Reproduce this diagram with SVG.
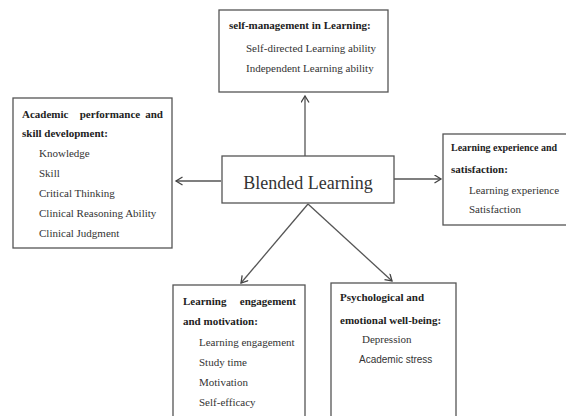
<svg xmlns="http://www.w3.org/2000/svg" width="566" height="416" viewBox="0 0 566 416">
<defs>
<marker id="arr" markerWidth="10" markerHeight="10" refX="7" refY="4.5" orient="auto" markerUnits="userSpaceOnUse">
<path d="M0.5,0.5 L7,4.5 L0.5,8.5" fill="none" stroke="#444" stroke-width="1.3"/>
</marker>
</defs>
<style>
.box{fill:#fff;stroke:#555;stroke-width:1.3}
.h{font-family:"Liberation Serif","Times New Roman",serif;font-weight:bold;font-size:11px;fill:#222}
.t{font-family:"Liberation Serif","Times New Roman",serif;font-size:11px;fill:#333}
.s{font-family:"Liberation Sans",Arial,sans-serif;font-size:10px;fill:#333}
.big{font-family:"Liberation Serif","Times New Roman",serif;font-size:18px;fill:#333}
.c{stroke:#555;stroke-width:1.3;fill:none}
</style>
<rect width="566" height="416" fill="#fff"/>
<g id="connectors">
<line class="c" x1="305" y1="157" x2="305" y2="96" marker-end="url(#arr)"/>
<line class="c" x1="221" y1="181" x2="176" y2="181" marker-end="url(#arr)"/>
<line class="c" x1="394" y1="179" x2="441" y2="179" marker-end="url(#arr)"/>
<line class="c" x1="308" y1="204" x2="241" y2="283" marker-end="url(#arr)"/>
<line class="c" x1="308" y1="204" x2="392" y2="281" marker-end="url(#arr)"/>
</g>
<g id="center">
<rect class="box" x="222" y="156" width="172" height="47"/>
<text class="big" x="308" y="189" text-anchor="middle">Blended Learning</text>
</g>
<g id="top">
<rect class="box" x="219" y="10" width="169" height="82"/>
<text class="h" x="229" y="29">self-management in Learning:</text>
<text class="t" x="246" y="52">Self-directed Learning ability</text>
<text class="t" x="246" y="72">Independent Learning ability</text>
</g>
<g id="left">
<rect class="box" x="13" y="98" width="159" height="150"/>
<text class="h" x="22" y="118">Academic</text>
<text class="h" x="110" y="118" text-anchor="middle">performance</text>
<text class="h" x="163" y="118" text-anchor="end">and</text>
<text class="h" x="22" y="137">skill development:</text>
<text class="t" x="39" y="157">Knowledge</text>
<text class="t" x="39" y="177">Skill</text>
<text class="t" x="39" y="197">Critical Thinking</text>
<text class="t" x="39" y="217">Clinical Reasoning Ability</text>
<text class="t" x="39" y="237">Clinical Judgment</text>
</g>
<g id="right">
<rect class="box" x="443" y="134" width="140" height="91"/>
<text class="h" x="451" y="151" style="font-size:10px">Learning experience and</text>
<text class="h" x="451" y="173">satisfaction:</text>
<text class="t" x="469" y="194">Learning experience</text>
<text class="t" x="469" y="213">Satisfaction</text>
</g>
<g id="bottom-left">
<rect class="box" x="173" y="285" width="132" height="140"/>
<text class="h" x="183" y="305">Learning</text>
<text class="h" x="296" y="305" text-anchor="end">engagement</text>
<text class="h" x="183" y="325">and motivation:</text>
<text class="t" x="199" y="346">Learning engagement</text>
<text class="t" x="199" y="366">Study time</text>
<text class="t" x="199" y="386">Motivation</text>
<text class="t" x="199" y="406">Self-efficacy</text>
</g>
<g id="bottom-right">
<rect class="box" x="331" y="283" width="125" height="142"/>
<text class="h" x="340" y="301">Psychological and</text>
<text class="h" x="340" y="324">emotional well-being:</text>
<text class="t" x="362" y="343">Depression</text>
<text class="s" x="359" y="363">Academic stress</text>
</g>
</svg>
